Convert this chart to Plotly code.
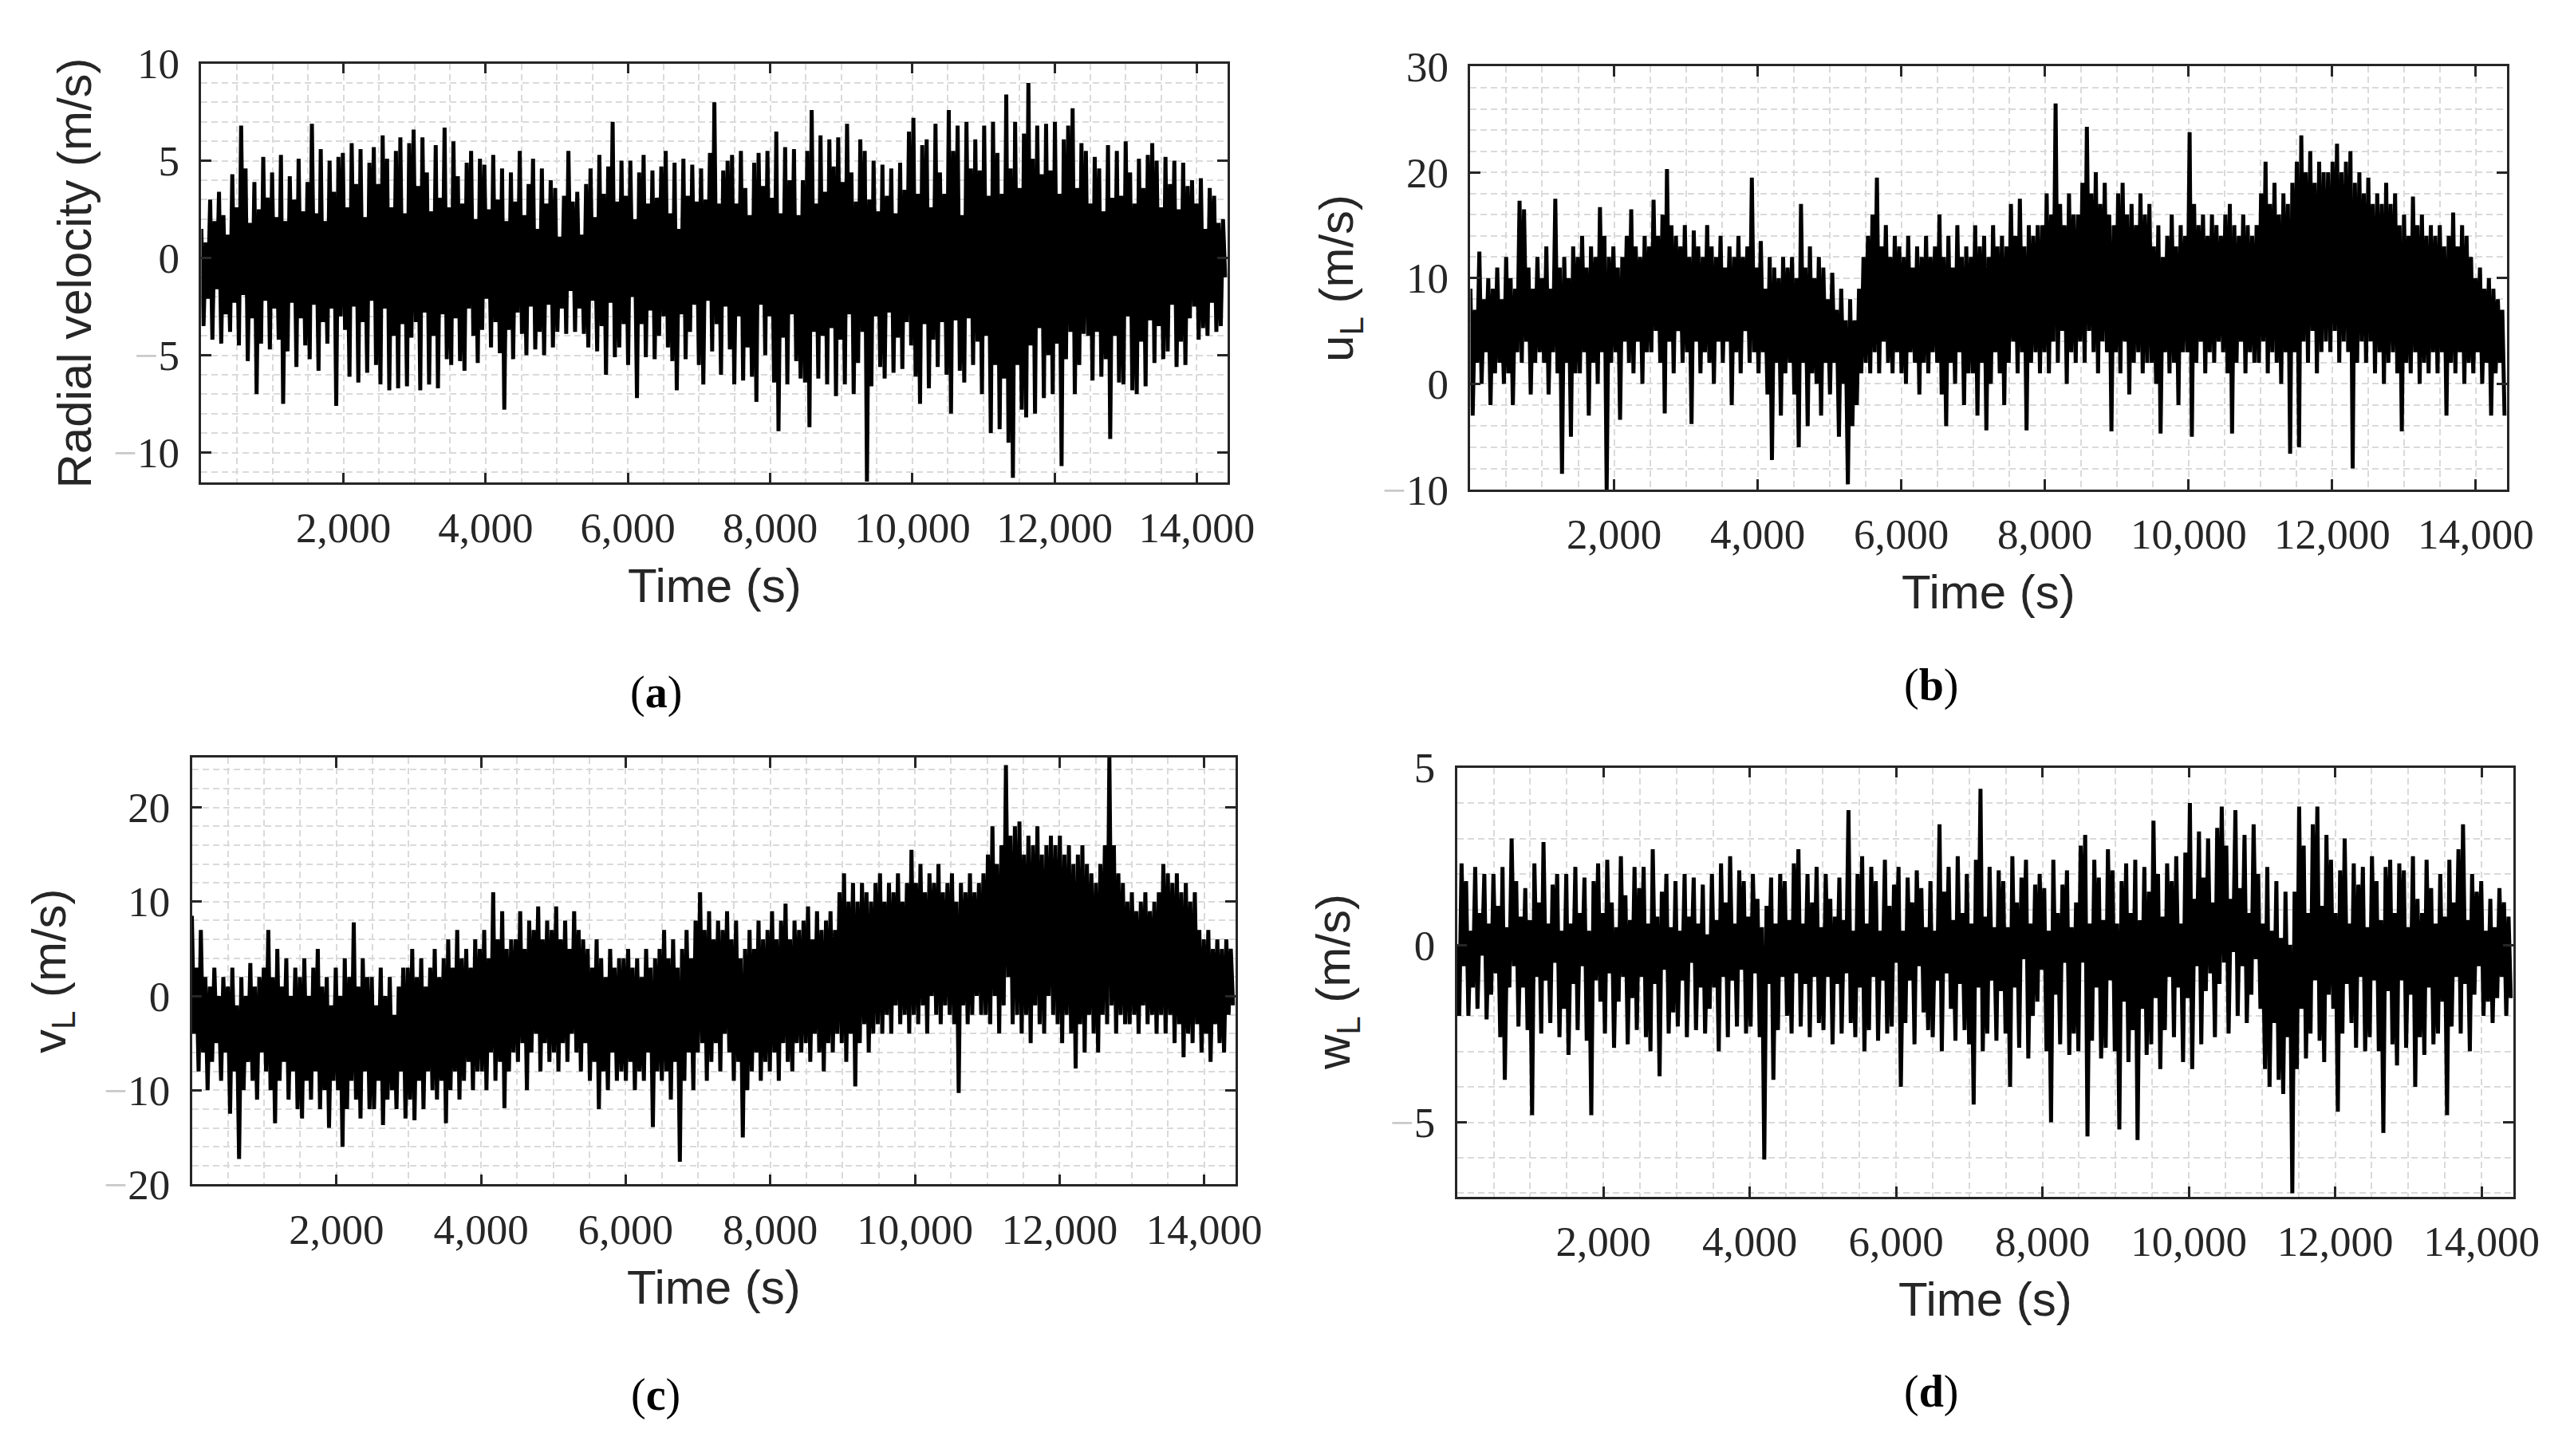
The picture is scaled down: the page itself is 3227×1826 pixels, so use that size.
import numpy as np
import plotly.graph_objects as go

# ---------------- data (16 per 500 s) ----------------
radial_velocity = [
 1.5,-3.5,0.8,-2.1,3.0,-4.2,1.9,-1.6,3.4,-4.4,2.2,-2.9,1.2,-3.8,4.3,-2.3,
 2.6,-4.5,6.8,-1.9,4.6,-5.3,1.8,-3.1,3.9,-7.0,2.5,-4.4,5.2,-2.2,3.1,-4.7,
 4.4,-2.6,2.1,-4.2,5.3,-7.5,1.9,-4.8,4.2,-2.3,3.0,-5.6,5.1,-3.1,2.4,-4.5,
 3.9,-5.2,6.9,-2.4,2.3,-5.8,5.6,-3.3,1.9,-4.4,5.0,-2.6,3.4,-7.6,5.2,-3.0,
 5.4,-3.7,2.6,-6.1,5.9,-2.5,3.8,-6.4,5.6,-3.3,2.1,-5.9,4.9,-2.2,5.7,-5.5,
 3.8,-6.5,6.3,-2.6,5.1,-6.8,2.6,-4.0,5.5,-6.7,6.2,-3.4,2.3,-6.6,5.9,-4.1,
 6.6,-3.3,3.7,-6.8,6.2,-2.8,4.4,-6.5,2.4,-4.0,5.8,-6.7,3.1,-2.9,6.7,-5.2,
 2.6,-5.5,6.0,-3.1,4.2,-5.3,2.8,-5.8,4.9,-2.6,5.5,-4.0,2.0,-5.4,5.1,-3.7,
 4.8,-2.1,2.5,-4.6,5.3,-3.3,3.0,-4.9,4.6,-7.8,1.9,-3.7,4.4,-5.2,2.9,-2.8,
 5.5,-3.9,2.2,-5.0,3.8,-2.5,5.1,-4.7,1.5,-3.8,4.6,-5.0,2.8,-2.4,4.0,-4.6,
 3.6,-3.8,1.1,-2.6,3.2,-3.9,5.5,-1.7,2.9,-3.8,3.4,-2.6,1.2,-3.9,3.8,-4.6,
 4.6,-2.2,2.1,-4.8,5.3,-3.5,3.3,-6.0,4.7,-2.3,7.0,-5.1,2.9,-4.6,5.0,-3.4,
 3.2,-5.5,5.0,-2.0,2.0,-7.2,4.4,-3.4,5.3,-5.1,2.8,-2.7,4.5,-5.2,3.1,-4.0,
 4.7,-3.0,5.5,-4.6,2.3,-5.3,4.9,-6.8,1.5,-2.9,5.1,-5.2,3.2,-3.8,4.8,-2.4,
 2.9,-5.5,4.6,-6.5,3.0,-2.2,5.4,-4.8,8.0,-3.4,2.8,-6.0,4.5,-2.5,5.0,-4.7,
 5.3,-6.5,2.8,-3.0,5.5,-6.3,3.6,-4.6,2.2,-6.1,4.9,-7.4,5.4,-2.4,3.7,-5.0,
 5.5,-3.0,3.1,-6.4,6.5,-8.9,2.3,-4.1,5.7,-6.5,4.0,-2.9,5.6,-5.3,2.2,-6.2,
 4.0,-6.4,5.5,-8.7,7.6,-3.8,2.8,-6.2,6.3,-4.0,3.4,-6.5,6.1,-3.6,4.7,-7.1,
 6.2,-4.2,3.9,-6.5,6.9,-2.9,4.4,-7.0,2.9,-5.4,6.1,-3.8,5.5,-11.5,3.0,-6.6,
 5.0,-3.0,2.4,-5.6,4.8,-6.2,3.2,-2.8,4.6,-5.9,2.3,-4.1,4.9,-5.7,3.5,-3.3,
 6.5,-4.5,7.2,-6.1,3.3,-7.5,5.8,-3.4,6.1,-6.7,2.6,-4.2,6.9,-5.6,4.4,-3.3,
 3.3,-6.0,7.6,-8.0,5.5,-3.2,6.8,-5.8,2.2,-6.4,7.0,-3.1,4.6,-5.5,6.1,-4.3,
 4.5,-7.0,6.8,-4.0,3.2,-9.0,7.0,-5.5,5.4,-8.8,3.3,-6.2,8.4,-9.5,4.6,-11.3,
 7.0,-5.5,3.6,-7.8,6.4,-8.2,9.0,-4.5,5.1,-8.0,6.8,-3.6,4.3,-7.2,6.9,-5.0,
 4.5,-7.0,7.0,-4.4,3.3,-10.7,6.1,-5.2,6.8,-3.8,7.7,-7.0,3.6,-5.5,5.9,-3.9,
 5.5,-4.0,2.8,-6.3,5.2,-3.8,4.6,-6.1,2.4,-5.2,5.8,-9.3,3.1,-4.0,5.5,-6.4,
 3.2,-6.5,6.0,-3.0,4.4,-6.8,2.8,-7.0,5.1,-4.3,3.6,-6.6,5.3,-3.2,5.9,-5.4,
 5.0,-3.5,2.6,-5.2,5.2,-4.8,3.8,-2.4,5.0,-5.6,2.5,-4.3,4.9,-5.5,3.7,-3.1,
 4.0,-2.5,2.8,-4.2,4.1,-3.6,1.5,-4.0,3.6,-2.3,3.2,-3.8,1.8,-3.5,2.0,-1.0,
]

u_L = [
 9,-3,7,2,12.5,0,8,3,10,-2,9,1,11,2,8,0,
 12,1,10,-2,9,3,17.3,2,16.5,4,11,-1,9,2,12,3,
 10,2,13,-1,9,3,17.5,1,11,-8.5,12,2,10,-5,13,1,
 12,1,14,3,11,-3,13,2,12,0,16.7,3,14,-10,12,2,
 13,3,11,-3.4,12,4,14,2,16.5,1,13,4,12,0,14,3,
 13,3,17.4,5,14,2,16,-2.8,20.3,4,15,1,14,5,13,2,
 15,3,12,-3.8,14.5,4,13,1,12,3,15,2,13,0,12,4,
 14,2,11,4,13,-2,12,3,14,1,12,5,13,2,19.5,3,
 11,1,13.5,3,9,-1,12,-7.2,11,2,10,-3,12,1,11,2,
 12,-1,10,-6,17,2,11,-4,13,1,10,0,12,-3,11,2,
 8,-1,10.5,2,7,-5,9,0,6,-9.5,8,-4,6,-2,9,1,
 12,2,14,1,16,3,19.5,1,13,4,15,2,12,1,14,3,
 13,1,12,0,14,3,11,2,13,-1,12,2,14,1,12,3,
 13,2,16,-1,12,-4,14,2,11,0,15,3,12,-2,13,1,
 12,1,15,-3,13,2,14,-4.4,12,0,15,3,13,1,14,-2,
 13,2,17,4,14,1,17.5,3,13,-4.4,15,2,14,3,15,1,
 15,3,18,1,16,4,26.5,2,17,5,15,0,18,3,16,2,
 16,4,19,2,24.3,5,18,3,20,1,17,4,19,3,16,-4.5,
 15,3,18,1,19,4,16,-1,17,2,15,3,18,1,16,2,
 17,2,13,0,15,-4.7,12,3,14,1,16,2,13,-2,15,3,
 14,3,23.8,-5,17,2,15,4,16,1,14,3,16,2,15,4,
 14,3,16,1,17,-4.7,15,2,14,4,16,1,15,3,14,2,
 15,2,18,4,21,1,17,3,19,2,16,0,18,3,17,-6.6,
 19,3,21,-6,23.5,4,20,2,22,5,19,1,21,3,20,4,
 20,3,21,5,22.7,2,20,4,21,3,22,-8,19,2,20,4,
 18,2,19.5,4,17,1,18,3,17,0,19,2,17,3,18,1,
 15,-4.5,16,2,14,1,17.7,3,15,0,16,2,14,1,15,3,
 14,1,15,3,13,-3,14,2,16.2,1,13,3,15,0,14,2,
 12,1,10,3,11,0,9,2,10,-3,9,1,8,2,7,-3,
]

v_L = [
 8.5,-4,3,-8,7,-6,2,-10,1,-7,3,-5,0,-9,2,-6,
 1,-12.5,3,-8,-1,-17.3,2,-10,0,-7,3.5,-9,1,-11,2,-6,
 3,-8,7,-10,2,-13.5,5,-9,1,-7,4,-11,0,-8,3,-12,
 2,-13,4,-9,0,-11,3,-8,5,-12,1,-10,2,-14,-1,-9,
 3,-10,0,-16,4,-12,2,-9,7.8,-11,1,-13,4,-8,2,-12,
 2,-12,-1,-9,3,-13.7,0,-11,2,-10,-2,-12,1,-8,3,-13,
 3,-11,5,-13.2,2,-9,4,-12,1,-8,3,-10,5,-11,2,-9,
 4,-13.5,6,-10,3,-8,7,-11,4,-9,5,-7,3,-10,6,-8,
 5,-8,7,-10,4,-6,11,-9,6,-7,9,-11.9,5,-8,6,-6,
 6,-7,9,-5,5,-10,8,-6,7,-4,9.5,-8,6,-5,8,-7,
 7,-6,9.5,-8,6,-5,8,-7,5,-4,9,-6,7,-8,6,-5,
 5,-9,3,-7,6,-12,4,-8,2,-10,5,-6,3,-9,4,-8,
 4,-9,5,-7,3,-10,4,-8,2,-9,5,-6,3,-13.9,4,-8,
 5,-9,7,-8,4,-11,6,-7,3,-17.6,5,-9,7,-6,4,-10,
 8,-6,11,-5,7,-9,9,-7,6,-5,8,-8,7,-4,9,-6,
 6,-9,8,-7,4,-15,5,-10,7,-8,5,-6,8,-9,6,-7,
 7,-8,9,-6,6,-9,8,-5,9.8,-7,6,-8,8,-5,7,-6,
 8,-5,9.5,-7,6,-4,9,-6,7,-8,8,-5,9,-6,7,-4,
 11,-5,13,-7,10,-4,12,-9.6,10,-5,12,-3,11,-6,10,-4,
 12,-3,13,-4,10,-2,12,-4,11,-1,13,-3,10,-2,12,-4,
 15.5,-2,12,-3,14,-1,11,-4,13,0,12,-2,14,-3,11,-1,
 12,-2,13,-3,10,-10.3,12,-1,11,-3,13,-2,11,0,12,-2,
 13,-2,15,-3,18,0,14,-4,16,-1,24.5,2,17,-3,18,-2,
 18.5,-4,15,-2,17,-5,16,-1,18,-3,15,-4,16,0,17,-2,
 16,-3,17,-5,15,-2,16,-4,14,-7.7,15,-3,16,-6,14,-2,
 13,-4,12,-6,14,-2,16,-3,25.5,-1,16,-4,13,-2,12,-3,
 10,-3,11,-2,9,-4,10,-1,11,-3,9,-2,10,-4,11,-2,
 14,-4,13,-2,12,-5,13,-3,11,-6.5,12,-4,10,-5,11,-3,
 7,-6,6,-4,7,-7,5,-3,6,-5,5,-6,6,-2,5,-1,
]

w_L = [
 0.0,-2.0,2.3,-0.6,1.8,-2.0,0.4,-1.2,2.2,-1.8,0.9,-0.3,2.0,-2.1,0.6,-1.4,
 2.0,-0.8,1.1,-2.6,2.2,-3.8,0.5,-1.2,3.0,-0.6,1.8,-2.3,0.8,-1.2,1.6,-2.4,
 0.7,-4.8,2.3,-0.9,1.2,-2.5,2.9,-1.0,0.6,-2.2,1.7,-0.5,2.0,-2.6,0.4,-1.8,
 2.0,-3.1,0.6,-1.1,2.2,-2.4,0.9,-0.6,1.9,-2.7,0.4,-4.8,1.8,-1.0,2.3,-1.6,
 0.9,-2.5,2.4,-0.8,1.2,-2.9,0.5,-1.6,2.5,-0.9,1.4,-2.8,0.7,-1.5,2.2,-2.4,
 1.6,-0.9,2.2,-2.6,0.6,-3.0,2.7,-1.1,0.8,-3.7,1.5,-0.7,2.0,-2.5,0.5,-1.9,
 1.8,-2.3,0.4,-1.0,2.0,-2.6,0.8,-0.5,1.9,-2.4,0.6,-1.2,1.7,-2.5,0.3,-1.8,
 2.0,-1.2,0.7,-3.0,2.3,-0.9,1.2,-2.6,2.5,-1.0,0.6,-2.3,2.1,-0.7,1.8,-2.5,
 0.8,-2.3,2.0,-0.8,1.3,-2.6,0.5,-6.05,1.1,-1.1,1.9,-3.8,0.6,-2.4,2.0,-0.9,
 1.8,-2.0,0.7,-2.5,2.3,-0.8,2.7,-2.3,0.6,-1.1,2.0,-2.6,1.2,-0.9,2.2,-2.2,
 0.5,-2.4,2.0,-0.9,1.3,-2.8,0.8,-1.1,1.9,-2.5,0.7,-0.8,3.8,-2.2,0.4,-2.6,
 2.0,-1.2,2.5,-3.0,0.6,-2.4,2.2,-0.9,1.8,-2.7,0.4,-1.0,2.4,-2.5,1.1,-2.3,
 1.7,-0.5,2.2,-4.0,0.4,-2.2,1.9,-1.0,1.2,-2.8,2.1,-0.6,1.6,-1.9,0.5,-2.4,
 1.8,-2.6,0.4,-1.0,3.4,-3.0,1.5,-0.8,2.2,-1.8,0.7,-2.7,2.5,-1.1,0.9,-2.4,
 2.0,-2.8,0.6,-4.5,2.4,-1.2,4.4,-3.0,0.8,-2.5,2.2,-1.0,0.5,-2.7,2.1,-1.3,
 1.8,-2.5,0.5,-4.0,2.5,-1.2,1.2,-2.9,1.9,-0.4,2.4,-3.2,0.6,-2.0,1.7,-1.6,
 2.0,-0.7,1.6,-3.0,0.4,-5.0,2.4,-1.4,0.9,-2.8,1.7,-0.5,2.1,-3.1,0.5,-2.5,
 1.2,-3.0,2.8,-0.5,3.1,-5.4,0.6,-2.7,2.4,-1.2,1.9,-3.2,0.7,-2.9,2.7,-1.0,
 2.1,-3.0,0.6,-5.2,1.8,-1.6,2.3,-3.3,0.9,-2.4,2.4,-5.5,0.7,-1.8,2.2,-3.1,
 1.5,-2.8,3.5,-1.5,2.0,-3.5,0.8,-2.4,2.3,-0.9,1.8,-2.6,2.5,-1.2,0.6,-3.3,
 2.6,-1.5,4.0,-3.5,1.3,-0.6,3.2,-2.8,1.9,-1.3,3.0,-0.8,1.2,-2.6,3.3,-1.1,
 3.9,-0.5,2.8,-2.5,1.3,-0.2,3.8,-2.0,1.6,-0.6,3.1,-2.2,0.9,-1.4,3.4,-0.4,
 2.0,-1.8,0.6,-3.5,2.2,-4.0,0.4,-2.2,1.8,-3.8,0.2,-4.2,1.5,-2.6,0.0,-7.0,
 1.5,-3.5,3.9,-1.8,2.8,-3.2,0.9,-2.5,3.4,-1.0,3.9,-2.7,1.1,-3.3,3.1,-1.4,
 2.4,-1.8,0.9,-4.7,2.1,-2.5,3.0,-1.1,0.6,-2.2,2.3,-2.9,1.7,-0.9,2.2,-3.0,
 0.5,-2.6,2.5,-1.0,1.8,-3.0,0.7,-5.3,2.2,-1.3,2.4,-2.8,0.9,-3.4,2.3,-1.0,
 2.1,-2.9,0.5,-1.4,2.5,-4.0,1.3,-2.6,0.9,-3.1,2.4,-1.2,1.6,-2.8,0.6,-2.5,
 2.0,-1.6,0.8,-4.8,2.4,-2.3,1.2,-0.9,2.7,-2.5,3.4,-1.1,0.7,-3.0,2.0,-1.4,
 1.5,-0.6,1.8,-2.0,0.4,-1.6,1.3,-2.2,0.5,-1.5,1.6,-0.9,1.2,-2.0,0.8,-1.5,
]

x_tickvals = [2000, 4000, 6000, 8000, 10000, 12000, 14000]
x_ticktext = ["2,000", "4,000", "6,000", "8,000", "10,000", "12,000", "14,000"]

panels = [
    dict(name="a", y=radial_velocity, yticks=[-10, -5, 0, 5, 10], yrange=[-11.55, 10.0], ydtick=1,
         ytitle="Radial velocity (m/s)", box=(247, 1547, 45, 588), ytitle_x=86),
    dict(name="b", y=u_L, yticks=[-10, 0, 10, 20, 30], yrange=[-10, 30], ydtick=2,
         ytitle="u<sub>L</sub> (m/s)", box=(1855, 3168, 49, 597), ytitle_x=1690),
    dict(name="c", y=v_L, yticks=[-20, -10, 0, 10, 20], yrange=[-20, 25.3], ydtick=2,
         ytitle="v<sub>L</sub> (m/s)", box=(235, 1557, 944, 1497), ytitle_x=58),
    dict(name="d", y=w_L, yticks=[-5, 0, 5], yrange=[-7.1, 5.0], ydtick=1,
         ytitle="w<sub>L</sub> (m/s)", box=(1838, 3176, 957, 1513), ytitle_x=1686),
]

W, H = 3227, 1826
def fx(px): return px / W
def fy(py): return 1 - py / H

def ylab(v):
    if v < 0:
        return '<span style="color:#c8c8c8">\u2212</span>' + str(abs(v))
    return str(v)

fig = go.Figure()
annotations = []
grid_col = "#dadada"
axis_col = "#262626"
tick_font = dict(family="Liberation Serif, DejaVu Serif, serif", size=53, color="#262626")
title_font = dict(family="Liberation Sans, Arial, sans-serif", size=60, color="#262626")

for i, p in enumerate(panels):
    k = "" if i == 0 else str(i + 1)
    x0, x1, y0, y1 = p["box"]
    t = np.linspace(0, 14400, len(p["y"]))
    fig.add_trace(go.Scatter(x=t, y=p["y"], mode="lines",
                             line=dict(color="black", width=5),
                             xaxis="x" + k, yaxis="y" + k, showlegend=False,
                             hoverinfo="skip"))
    common = dict(showline=True, linecolor=axis_col, linewidth=2.5, mirror="ticks",
                  ticks="inside", ticklen=13, tickwidth=2.5, tickcolor=axis_col,
                  showgrid=True, gridcolor=grid_col, gridwidth=1.5, griddash="8px,5px",
                  zeroline=False, tickfont=tick_font)
    fig.update_layout(**{
        "xaxis" + k: dict(common, domain=[fx(x0), fx(x1)], anchor="y" + k,
                          range=[0, 14430], tickvals=x_tickvals, ticktext=x_ticktext,
                          ticklabelstandoff=8,
                          minor=dict(dtick=500, tick0=0, showgrid=True, gridcolor=grid_col,
                                     gridwidth=1.5, griddash="8px,5px", ticks="")),
        "yaxis" + k: dict(common, domain=[fy(y1), fy(y0)], anchor="x" + k,
                          range=p["yrange"], tickvals=p["yticks"],
                          ticktext=[ylab(v) for v in p["yticks"]],
                          ticklabelstandoff=14,
                          minor=dict(dtick=p["ydtick"], tick0=0, showgrid=True, gridcolor=grid_col,
                                     gridwidth=1.5, griddash="8px,5px", ticks="")),
    })
    annotations.append(dict(x=fx(p["ytitle_x"]), y=fy((y0 + y1) / 2), xref="paper", yref="paper",
                            text=p["ytitle"], textangle=-90, showarrow=False,
                            font=title_font, xanchor="center", yanchor="middle"))
    annotations.append(dict(x=fx((x0 + x1) / 2), y=fy(y1 + 133), xref="paper", yref="paper",
                            text="Time (s)", showarrow=False, font=title_font,
                            xanchor="center", yanchor="middle"))

captions = [("a", 823, 860), ("b", 2439, 850), ("c", 823, 1770), ("d", 2439, 1766)]
for c, cx, cy in captions:
    annotations.append(dict(x=fx(cx), y=fy(cy), xref="paper", yref="paper",
                            text="(<b>%s</b>)" % c, showarrow=False,
                            font=dict(family="Liberation Serif, DejaVu Serif, serif", size=56, color="black"),
                            xanchor="center", yanchor="middle"))

fig.update_layout(width=W, height=H, margin=dict(l=0, r=0, t=0, b=0),
                  paper_bgcolor="white", plot_bgcolor="white",
                  annotations=annotations, showlegend=False, hovermode=False)

fig.write_html("out.html")
